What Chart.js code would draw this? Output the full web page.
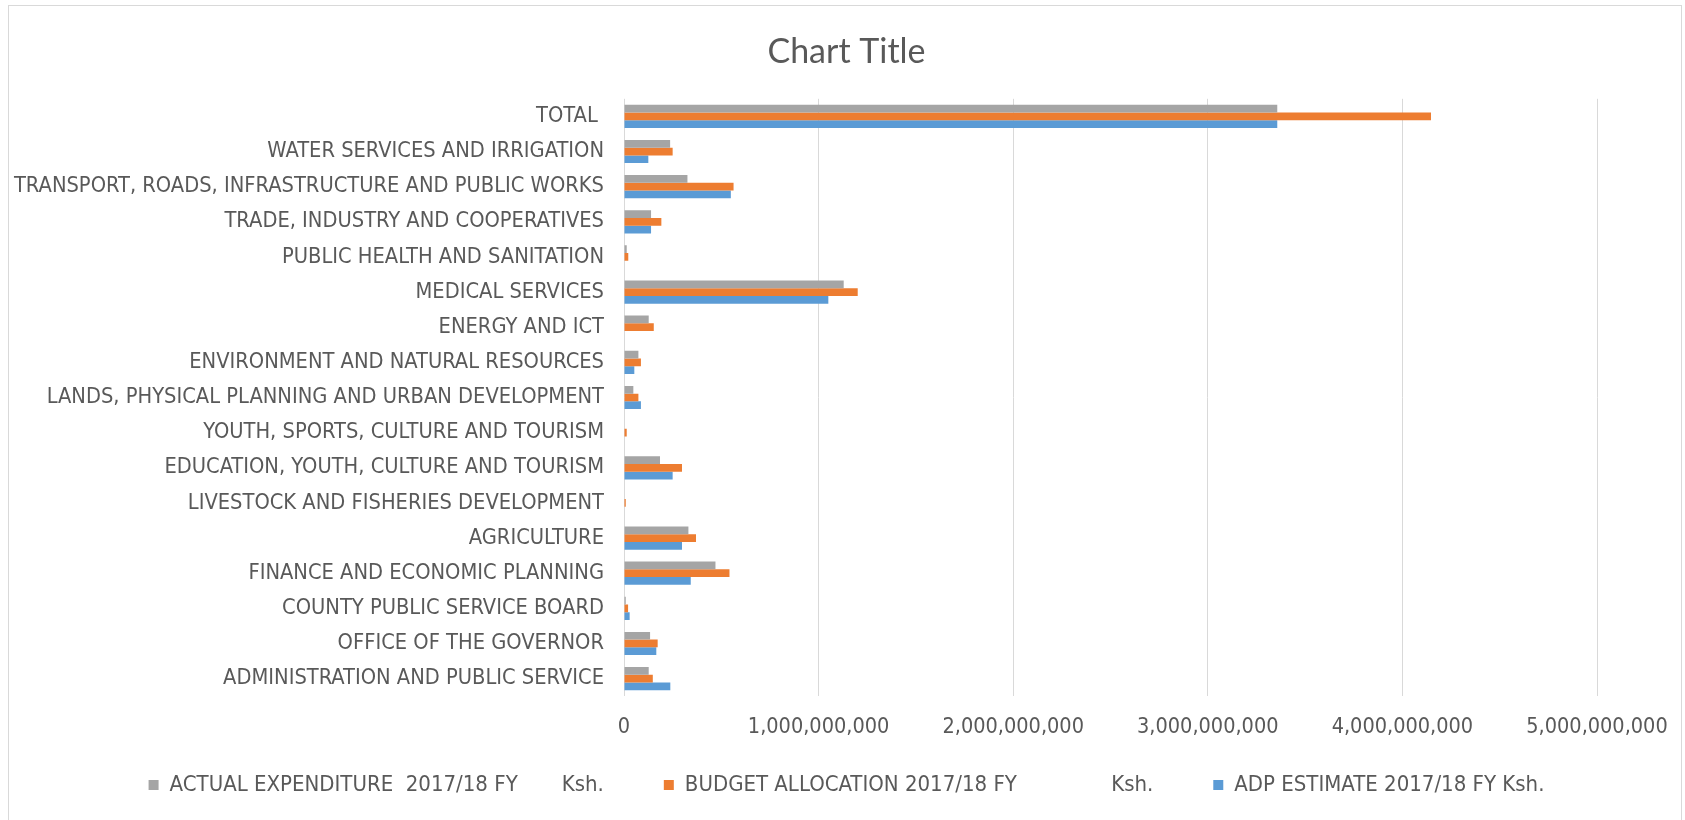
<!DOCTYPE html>
<html>
<head>
<meta charset="utf-8">
<script src="https://cdn.jsdelivr.net/npm/chart.js@4.4.0/dist/chart.umd.min.js"></script>
<style>
  html, body { margin: 0; padding: 0; background: #fff; overflow: hidden; }
  #wrap { position: relative; width: 1685px; height: 820px; }
  #frame { position: absolute; left: 8px; top: 5px; width: 1674px; height: 830px; border: 1px solid #d9d9d9; box-sizing: border-box; }
  canvas { position: absolute; left: 0; top: 0; }
</style>
</head>
<body>
<div id="wrap">
  <div id="frame"></div>
  <canvas id="chart" width="1685" height="820"></canvas>
</div>
<script>
// departments, top to bottom as in the picture
const departments = [
  'TOTAL ',
  'WATER SERVICES AND IRRIGATION',
  'TRANSPORT, ROADS, INFRASTRUCTURE AND PUBLIC WORKS',
  'TRADE, INDUSTRY AND COOPERATIVES',
  'PUBLIC HEALTH AND SANITATION',
  'MEDICAL SERVICES',
  'ENERGY AND ICT',
  'ENVIRONMENT AND NATURAL RESOURCES',
  'LANDS, PHYSICAL PLANNING AND URBAN DEVELOPMENT',
  'YOUTH, SPORTS, CULTURE AND TOURISM',
  'EDUCATION, YOUTH, CULTURE AND TOURISM',
  'LIVESTOCK AND FISHERIES DEVELOPMENT',
  'AGRICULTURE',
  'FINANCE AND ECONOMIC PLANNING',
  'COUNTY PUBLIC SERVICE BOARD',
  'OFFICE OF THE GOVERNOR',
  'ADMINISTRATION AND PUBLIC SERVICE'
];

// values in Ksh
const actualExpenditure = [3357000000, 237000000, 326000000, 139000000, 14000000, 1129000000, 127000000, 74000000, 48000000, 0, 185000000, 0, 331000000, 470000000, 9000000, 134000000, 127000000];
const budgetAllocation  = [4147000000, 250000000, 563000000, 192000000, 22000000, 1201000000, 153000000, 87000000, 74000000, 14000000, 298000000, 9000000, 370000000, 542000000, 21000000, 173000000, 148000000];
const adpEstimate       = [3357000000, 125000000, 549000000, 139000000, 0, 1050000000, 0, 53000000, 87000000, 0, 250000000, 0, 298000000, 343000000, 29000000, 166000000, 238000000];

// legend names (extra spaces as in the original sheet headers)
const seriesNames = [
  'ACTUAL EXPENDITURE  2017/18 FY       Ksh.       ',
  'BUDGET ALLOCATION 2017/18 FY               Ksh.       ',
  'ADP ESTIMATE 2017/18 FY Ksh.'
];

const axisMax = 5000000000;
const axisStep = 1000000000;

const txt = '#595959';
const narrow = "'Liberation Sans Narrow', 'DejaVu Sans Condensed', sans-serif";

const ctx = document.getElementById('chart');
const myChart = new Chart(ctx, {
  type: 'bar',
  data: {
    labels: departments,
    datasets: [
      { label: seriesNames[0], data: actualExpenditure, backgroundColor: '#A5A5A5' },
      { label: seriesNames[1], data: budgetAllocation, backgroundColor: '#ED7D31' },
      { label: seriesNames[2], data: adpEstimate, backgroundColor: '#5B9BD5' }
    ]
  },
  options: {
    indexAxis: 'y',
    responsive: false,
    animation: false,
    datasets: {
      bar: { barPercentage: 1, categoryPercentage: 0.66 }
    },
    layout: { padding: { left: 8, right: 0, top: 22, bottom: 14 } },
    plugins: {
      title: {
        display: true,
        text: 'Chart Title',
        color: txt,
        font: { family: 'Lato, sans-serif', size: 34, weight: 'normal' },
        padding: { top: 10, bottom: 26 }
      },
      legend: {
        position: 'bottom',
        labels: {
          color: txt,
          font: { family: narrow, size: 22 },
          boxWidth: 10,
          boxHeight: 10,
          padding: 16
        }
      },
      tooltip: { enabled: false }
    },
    scales: {
      x: {
        min: 0,
        max: axisMax,
        // keep the plot right edge where the 5,000,000,000 line sits
        afterFit: function(scale) { scale.paddingRight = 88; },
        ticks: {
          stepSize: axisStep,
          color: txt,
          font: { family: narrow, size: 21.5 },
          padding: 18,
          maxRotation: 0,
          callback: function(value) {
            return Number(value).toLocaleString('en-US');
          }
        },
        grid: { color: '#D9D9D9', lineWidth: 1, drawTicks: false },
        border: { display: false }
      },
      y: {
        afterFit: function(scale) { scale.width = 616; },
        ticks: {
          color: txt,
          font: { family: narrow, size: 21.7 },
          padding: 20,
          autoSkip: false
        },
        grid: { display: false, drawTicks: false },
        border: { display: false }
      }
    }
  }
});
</script>
</body>
</html>
